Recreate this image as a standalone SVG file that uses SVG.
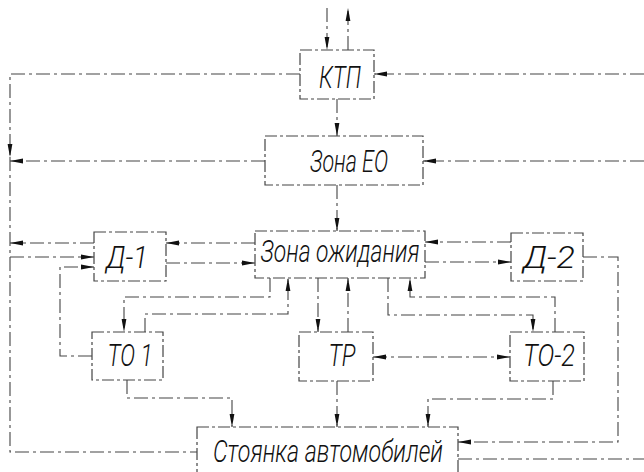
<svg xmlns="http://www.w3.org/2000/svg" width="644" height="472" viewBox="0 0 644 472">
<style>
.box{fill:none;stroke:#444;stroke-width:1.2;stroke-dasharray:12 3 3 3}
.ln{fill:none;stroke:#444;stroke-width:1.1;stroke-dasharray:14 4 3 4}
.ar{marker-end:url(#ah)}
.t{font-family:Roboto,"Liberation Sans Narrow","DejaVu Sans Condensed",sans-serif;font-style:italic;font-weight:300;font-size:31px;fill:#111;text-anchor:middle}
</style>
<defs>
<marker id="ah" markerUnits="userSpaceOnUse" markerWidth="13" markerHeight="6" refX="13" refY="3" orient="auto">
<path d="M0,0.6 L13,3 L0,5.4 z" fill="#111"/>
</marker>
<marker id="as" markerUnits="userSpaceOnUse" markerWidth="13" markerHeight="6" refX="0" refY="3" orient="auto">
<path d="M13,0.6 L0,3 L13,5.4 z" fill="#111"/>
</marker>
</defs>
<rect width="644" height="472" fill="#fff"/>
<g id="connectors">
<path class="ln ar" d="M327,8 V50"/>
<path class="ln ar" d="M348,50 V8"/>
<path class="ln ar" d="M644,74 H374"/>
<path class="ln ar" d="M300,74 H10 V157"/>
<path class="ln" d="M10,157 V452 H197"/>
<path class="ln ar" d="M644,161 H423"/>
<path class="ln ar" d="M265,161 H10"/>
<path class="ln ar" d="M337,99 V136"/>
<path class="ln ar" d="M337,185 V231"/>
<path class="ln ar" d="M94,243 H10"/>
<path class="ln ar" d="M10,257 H94"/>
<path class="ln ar" d="M92,356 H60 V267 H94"/>
<path class="ln ar" d="M255,243 H166"/>
<path class="ln ar" d="M166,263 H255"/>
<path class="ln ar" d="M511,242 H425"/>
<path class="ln ar" d="M425,262 H511"/>
<path class="ln ar" d="M583,257 H618 V442 H458"/>
<path class="ln" d="M458,459 H644"/>
<path class="ln ar" d="M270,278 V297 H124 V332"/>
<path class="ln ar" d="M145,332 V314 H288 V278"/>
<path class="ln ar" d="M318,278 V332"/>
<path class="ln ar" d="M348,332 V278"/>
<path class="ln ar" d="M373,357 H510" marker-start="url(#as)"/>
<path class="ln ar" d="M388,278 V315 H533 V332"/>
<path class="ln ar" d="M555,332 V297 H410 V278"/>
<path class="ln ar" d="M127,380 V398 H232 V427"/>
<path class="ln ar" d="M337,381 V427"/>
<path class="ln ar" d="M553,381 V399 H428 V427"/>
</g>
<g id="ktp"><rect class="box" x="300" y="50" width="74" height="49"/><text class="t" x="340" y="88" textLength="42" lengthAdjust="spacingAndGlyphs">КТП</text></g>
<g id="zona-eo"><rect class="box" x="265" y="136" width="158" height="49"/><text class="t" x="349" y="172" textLength="78" lengthAdjust="spacingAndGlyphs">Зона ЕО</text></g>
<g id="d1"><rect class="box" x="94" y="232" width="72" height="49"/><text class="t" x="127" y="268" textLength="42" lengthAdjust="spacingAndGlyphs">Д-1</text></g>
<g id="zona-ozhidaniya"><rect class="box" x="255" y="231" width="170" height="47"/><text class="t" x="340" y="262" textLength="159" lengthAdjust="spacingAndGlyphs">Зона ожидания</text></g>
<g id="d2"><rect class="box" x="511" y="233" width="72" height="48"/><text class="t" x="549" y="268" textLength="52" lengthAdjust="spacingAndGlyphs">Д-2</text></g>
<g id="to1"><rect class="box" x="92" y="332" width="71" height="48"/><text class="t" x="130" y="366" textLength="45" lengthAdjust="spacingAndGlyphs">ТО 1</text></g>
<g id="tr"><rect class="box" x="299" y="332" width="74" height="49"/><text class="t" x="342" y="366" textLength="27" lengthAdjust="spacingAndGlyphs">ТР</text></g>
<g id="to2"><rect class="box" x="510" y="332" width="74" height="49"/><text class="t" x="549" y="366" textLength="52" lengthAdjust="spacingAndGlyphs">ТО-2</text></g>
<g id="stoyanka"><rect class="box" x="197" y="427" width="261" height="60"/><text class="t" x="328" y="462" textLength="230" lengthAdjust="spacingAndGlyphs">Стоянка автомобилей</text></g>
</svg>
